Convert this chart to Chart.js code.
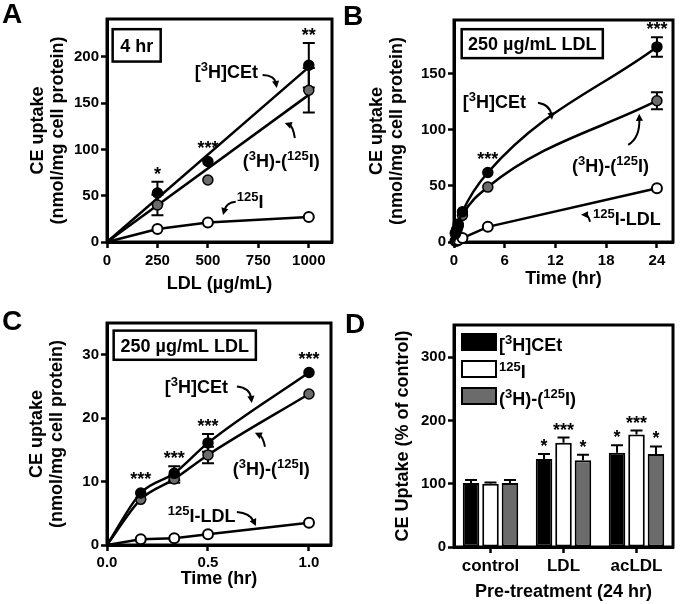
<!DOCTYPE html>
<html>
<head>
<meta charset="utf-8">
<title>CE uptake</title>
<script src="https://cdn.jsdelivr.net/npm/chart.js@4.4.1/dist/chart.umd.min.js"></script>
<style>
  html, body { margin: 0; padding: 0; background: #fff; }
  #fig { position: relative; width: 680px; height: 604px; overflow: hidden; }
  #fig canvas { position: absolute; }
</style>
</head>
<body>
<div id="fig">
  <canvas id="chartA" width="340" height="302" style="left:0;top:0"></canvas>
  <canvas id="chartB" width="340" height="302" style="left:340px;top:0"></canvas>
  <canvas id="chartC" width="340" height="302" style="left:0;top:302px"></canvas>
  <canvas id="chartD" width="340" height="302" style="left:340px;top:302px"></canvas>
</div>
<script>
const FONT = '"Liberation Sans", Arial, Helvetica, sans-serif';
const GRAY = '#6b6b6b';

// ── Panel A: uptake vs LDL dose (4 hr) ──────────────────────────────
const doseA    = [0, 250, 500, 1000];
const cetA     = [0, 53, 87, 191];
const cetErrA  = [0, 12, 0, 24];
const diffA    = [0, 40, 67, 164];
const diffErrA = [0, 11, 0, 24];
const iodA     = [0, 14, 21, 27];
const fitDoseA = [0, 1000];
const cetFitA  = [0, 189];
const diffFitA = [0, 159];
const starsA   = ['', '*', '***', '**'];
const xTicksA  = [0, 250, 500, 750, 1000];
const yTicksA  = [0, 50, 100, 150, 200];

// ── Panel B: time course to 24 hr ───────────────────────────────────
const timeB    = [0, 0.167, 0.333, 0.5, 1, 4, 24];
const cetB     = [0, 8.2, 11.3, 16.1, 27, 62, 174];
const cetErrB  = [0, 0, 0, 0, 0, 0, 8.7];
const diffB    = [0, 7.2, 10.4, 14.2, 23.8, 49, 126];
const diffErrB = [0, 0, 0, 0, 0, 0, 7.5];
const iodB     = [0, 0.9, 1.05, 1.7, 3.5, 13.5, 48];
const starsB   = ['', '', '', '', '', '***', '***'];
const xTicksB  = [0, 6, 12, 18, 24];
const yTicksB  = [0, 50, 100, 150];

// ── Panel C: first hour ─────────────────────────────────────────────
const timeC    = [0, 0.167, 0.333, 0.5, 1];
const cetC     = [0, 8.2, 11.3, 16.1, 27.2];
const cetErrC  = [0, 0, 1.1, 1.4, 0];
const diffC    = [0, 7.2, 10.4, 14.2, 23.8];
const diffErrC = [0, 0, 0.6, 1.3, 0];
const iodC     = [0, 0.9, 1.05, 1.7, 3.5];
const starsC   = ['', '***', '***', '***', '***'];
const xTicksC  = [0, 0.5, 1];
const yTicksC  = [0, 10, 20, 30];

// ── Panel D: pre-treatment, % of control ────────────────────────────
const groupsD    = ['control', 'LDL', 'acLDL'];
const cetD       = [101, 139, 149];
const cetErrD    = [5, 8, 12];
const iodD       = [100, 165, 178];
const iodErrD    = [2, 8, 6];
const diffD      = [101, 137, 147];
const diffErrD   = [5, 9, 12];
const starsCetD  = ['', '*', '*'];
const starsIodD  = ['', '***', '***'];
const starsDiffD = ['', '*', '*'];
const yTicksD    = [0, 100, 200, 300];

// label text with superscripts: [text, isSuperscript]
const LBL_CET  = [['[', 0], ['3', 1], ['H]CEt', 0]];
const LBL_DIFF = [['(', 0], ['3', 1], ['H)-(', 0], ['125', 1], ['I)', 0]];
const LBL_I    = [['125', 1], ['I', 0]];
const LBL_ILDL = [['125', 1], ['I-LDL', 0]];

// ── helpers ─────────────────────────────────────────────────────────
function pts(xs, ys) { return xs.map((x, i) => ({ x, y: ys[i] })); }
function yOf(d) { return typeof d === 'object' ? d.y : d; }
function hideOrigin(ctx) { return ctx.raw && ctx.raw.x === 0 ? 0 : 5; }

function series(data, fill, opt) {
  return Object.assign({
    data,
    borderColor: '#000',
    borderWidth: 2.5,
    backgroundColor: fill,
    pointBackgroundColor: fill,
    pointBorderColor: '#000',
    pointBorderWidth: 1.5,
    pointRadius: hideOrigin,
    clip: false,
    showLine: true,
    tension: 0,
  }, opt);
}

function bar(data, fill, errors, stars) {
  return {
    data, errors, stars,
    backgroundColor: fill,
    borderColor: '#000',
    borderWidth: 2,
    borderSkipped: false,
    categoryPercentage: 0.8,
    barPercentage: 0.85,
  };
}

function axis(o) {
  const a = {
    type: o.type || 'linear',
    afterFit: s => { if (s.isHorizontal()) s.height = o.size; else s.width = o.size; },
    border: { display: true, color: '#000', width: 3 },
    grid: { drawOnChartArea: false, drawTicks: true, tickLength: 6, tickWidth: 2.5, tickColor: '#000', offset: false },
    ticks: { color: '#000', padding: o.pad, font: { family: FONT, size: o.tickSize || 15, weight: 'bold' } },
    title: {
      display: true, text: o.title, color: '#000', padding: o.titlePad,
      font: { family: FONT, size: 18, weight: 'bold', lineHeight: 1.1 }
    }
  };
  if (a.type === 'linear') {
    a.min = 0;
    a.max = o.max;
    a.afterBuildTicks = s => { s.ticks = o.ticks.map(v => ({ value: v })); };
    a.ticks.callback = o.fmt || (v => String(v));
  } else {
    a.offset = true;
  }
  return a;
}

function baseOptions(pad, scales) {
  return {
    responsive: false,
    animation: false,
    devicePixelRatio: 1,
    events: [],
    layout: { padding: Object.assign({ left: 0, top: 0, right: 0, bottom: 0 }, pad) },
    plugins: { legend: { display: false }, tooltip: { enabled: false } },
    scales
  };
}

function richText(ctx, parts, x, y) {
  let cx = x;
  for (const [t, sup] of parts) {
    ctx.font = 'bold ' + (sup ? 13 : 18) + 'px ' + FONT;
    ctx.fillText(t, cx, sup ? y - 7 : y);
    cx += ctx.measureText(t).width;
  }
  return cx - x;
}

function drawArrow(ctx, p0, c, p1) {
  const ang = Math.atan2(p1.y - c.y, p1.x - c.x);
  const L = 7, W = 3.6;
  const cos = Math.cos(ang), sin = Math.sin(ang);
  ctx.beginPath();
  ctx.moveTo(p0.x, p0.y);
  ctx.quadraticCurveTo(c.x, c.y, p1.x - cos * L * 0.7, p1.y - sin * L * 0.7);
  ctx.stroke();
  ctx.beginPath();
  ctx.moveTo(p1.x, p1.y);
  ctx.lineTo(p1.x - L * cos + W * sin, p1.y - L * sin - W * cos);
  ctx.lineTo(p1.x - L * cos - W * sin, p1.y - L * sin + W * cos);
  ctx.closePath();
  ctx.fill();
}

function drawErrors(chart, kind) {
  const { ctx } = chart;
  const ys = chart.scales.y;
  ctx.save();
  ctx.strokeStyle = '#000';
  ctx.lineWidth = 2;
  chart.data.datasets.forEach((ds, i) => {
    const meta = chart.getDatasetMeta(i);
    if (!ds.errors || meta.type !== kind) return;
    meta.data.forEach((el, j) => {
      const err = ds.errors[j];
      if (!err) return;
      const v = yOf(ds.data[j]);
      const top = ys.getPixelForValue(v + err);
      const bot = kind === 'bar' ? el.y : ys.getPixelForValue(v - err);
      ctx.beginPath();
      ctx.moveTo(el.x, top); ctx.lineTo(el.x, bot);
      ctx.moveTo(el.x - 6, top); ctx.lineTo(el.x + 6, top);
      if (kind !== 'bar') { ctx.moveTo(el.x - 6, bot); ctx.lineTo(el.x + 6, bot); }
      ctx.stroke();
    });
  });
  ctx.restore();
}

function drawStars(chart) {
  const { ctx } = chart;
  const ys = chart.scales.y;
  ctx.save();
  ctx.fillStyle = '#000';
  ctx.textAlign = 'center';
  ctx.textBaseline = 'alphabetic';
  ctx.font = 'bold 18px ' + FONT;
  chart.data.datasets.forEach((ds, i) => {
    if (!ds.stars) return;
    const meta = chart.getDatasetMeta(i);
    meta.data.forEach((el, j) => {
      const s = ds.stars[j];
      if (!s) return;
      let top = meta.type === 'bar' ? el.y : el.y - 5.5;
      const err = ds.errors ? ds.errors[j] : 0;
      if (err) top = Math.min(top, ys.getPixelForValue(yOf(ds.data[j]) + err));
      ctx.fillText(s, el.x, top - 2);
    });
  });
  ctx.restore();
}

// per-panel decorations: frame, error bars, stars, labels, arrows, legend
function decor(notes) {
  return {
    id: 'decor',
    beforeDatasetsDraw(chart) {
      const { ctx, chartArea: a } = chart;
      ctx.save();
      ctx.strokeStyle = '#000';
      ctx.lineWidth = 3;
      ctx.strokeRect(a.left, a.top, a.right - a.left, a.bottom - a.top);
      ctx.restore();
      drawErrors(chart, 'line');
    },
    afterDatasetsDraw(chart) {
      drawErrors(chart, 'bar');
      drawStars(chart);
      const { ctx, chartArea: a } = chart;
      const sx = chart.scales.x, sy = chart.scales.y;
      const P = ([x, y]) => ({ x: sx.getPixelForValue(x), y: sy.getPixelForValue(y) });
      ctx.save();
      ctx.fillStyle = '#000';
      ctx.strokeStyle = '#000';
      ctx.textBaseline = 'alphabetic';
      ctx.textAlign = 'left';

      if (notes.box) {
        const b = notes.box;
        const p1 = P([b.x1, b.y1]), p2 = P([b.x2, b.y2]);
        ctx.lineWidth = 2.5;
        ctx.fillStyle = '#fff';
        ctx.fillRect(p1.x, p1.y, p2.x - p1.x, p2.y - p1.y);
        ctx.strokeRect(p1.x, p1.y, p2.x - p1.x, p2.y - p1.y);
        ctx.fillStyle = '#000';
        ctx.font = 'bold 18px ' + FONT;
        ctx.textAlign = 'center';
        ctx.fillText(b.text, (p1.x + p2.x) / 2, (p1.y + p2.y) / 2 + 6.5);
        ctx.textAlign = 'left';
      }
      (notes.texts || []).forEach(t => {
        const p = P([t.x, t.y]);
        richText(ctx, t.parts, p.x, p.y);
      });
      ctx.lineWidth = 2;
      (notes.arrows || []).forEach(ar => drawArrow(ctx, P(ar[0]), P(ar[1]), P(ar[2])));

      if (notes.legend) {
        notes.legend.forEach((item, k) => {
          const x = a.left + 8, y = a.top + 9 + k * 27;
          ctx.fillStyle = item.fill;
          ctx.fillRect(x, y, 34, 16);
          ctx.lineWidth = 2;
          ctx.strokeRect(x, y, 34, 16);
          ctx.fillStyle = '#000';
          richText(ctx, item.parts, x + 37, y + 17);
        });
      }
      if (notes.letter) {
        const [txt, lx, ly] = notes.letter;
        ctx.font = 'bold 28px ' + FONT;
        ctx.fillText(txt, lx, ly);
      }
      ctx.restore();
    }
  };
}

// ── annotations (label anchors in data units) ───────────────────────
const notesA = {
  letter: ['A', 2, 23],
  box: { x1: 28, y1: 230, x2: 266, y2: 195, text: '4 hr' },
  texts: [
    { x: 435, y: 177, parts: LBL_CET },
    { x: 673, y: 81, parts: LBL_DIFF },
    { x: 643, y: 37, parts: LBL_I }
  ],
  arrows: [
    [[771, 180.5], [831, 180], [841, 166.5]],
    [[931, 112.4], [921, 125.4], [881, 128.6]],
    [[638, 43.6], [592, 42.9], [575, 29.2]]
  ]
};

const notesB = {
  letter: ['B', 3, 25],
  box: { x1: 0.91, y1: 189.8, x2: 17.6, y2: 164, text: '250 µg/mL LDL' },
  texts: [
    { x: 1.03, y: 119.7, parts: LBL_CET },
    { x: 13.96, y: 62.7, parts: LBL_DIFF },
    { x: 16.45, y: 15.4, parts: LBL_ILDL }
  ],
  arrows: [
    [[9.93, 124.2], [11.35, 122.5], [11.59, 109]],
    [[20.6, 86.7], [22.0, 92.9], [21.9, 114.3]],
    [[16.09, 18.1], [15.85, 24.3], [15.03, 24.3]]
  ]
};

const notesC = {
  letter: ['C', 2, 28],
  box: { x1: 0.033, y1: 33.8, x2: 0.737, y2: 29.2, text: '250 µg/mL LDL' },
  texts: [
    { x: 0.286, y: 24.0, parts: LBL_CET },
    { x: 0.623, y: 11.06, parts: LBL_DIFF },
    { x: 0.301, y: 3.63, parts: LBL_ILDL }
  ],
  arrows: [
    [[0.643, 25.0], [0.707, 24.8], [0.717, 22.4]],
    [[0.782, 15.5], [0.772, 17.1], [0.732, 17.7]],
    [[0.643, 5.2], [0.707, 5.06], [0.737, 3.0]]
  ]
};

const notesD = {
  letter: ['D', 5, 31],
  legend: [
    { fill: '#000', parts: LBL_CET },
    { fill: '#fff', parts: LBL_I },
    { fill: GRAY, parts: LBL_DIFF }
  ]
};

const yTitle = ['CE uptake', '(nmol/mg cell protein)'];

// ── charts ──────────────────────────────────────────────────────────
new Chart(document.getElementById('chartA'), {
  type: 'line',
  data: {
    datasets: [
      series(pts(doseA, cetA), '#000', { showLine: false, errors: cetErrA, stars: starsA }),
      series(pts(doseA, diffA), GRAY, { showLine: false, errors: diffErrA }),
      series(pts(doseA, iodA), '#fff', { pointBorderWidth: 2 }),
      series(pts(fitDoseA, cetFitA), '#000', { pointRadius: 0 }),
      series(pts(fitDoseA, diffFitA), '#000', { pointRadius: 0 }),
    ]
  },
  options: baseOptions({ top: 19, right: 8 }, {
    x: axis({ max: 1115, ticks: xTicksA, size: 60, pad: 4, title: 'LDL (µg/mL)', titlePad: { top: 0, bottom: 8 } }),
    y: axis({ max: 241, ticks: yTicksA, size: 107, pad: 2, title: yTitle, titlePad: { top: 28, bottom: 0 } })
  }),
  plugins: [decor(notesA)]
});

new Chart(document.getElementById('chartB'), {
  type: 'line',
  data: {
    datasets: [
      series(pts(timeB, cetB), '#000', { cubicInterpolationMode: 'monotone', errors: cetErrB, stars: starsB }),
      series(pts(timeB, diffB), GRAY, { cubicInterpolationMode: 'monotone', errors: diffErrB }),
      series(pts(timeB, iodB), '#fff', { pointBorderWidth: 2 }),
    ]
  },
  options: baseOptions({ top: 20, right: 7 }, {
    x: axis({ max: 25.9, ticks: xTicksB, size: 60, pad: 4, title: 'Time (hr)', titlePad: { top: 0, bottom: 13 } }),
    y: axis({ max: 198, ticks: yTicksB, size: 114, pad: 2, title: yTitle, titlePad: { top: 27, bottom: 0 } })
  }),
  plugins: [decor(notesB)]
});

new Chart(document.getElementById('chartC'), {
  type: 'line',
  data: {
    datasets: [
      series(pts(timeC, cetC), '#000', { cubicInterpolationMode: 'monotone', errors: cetErrC, stars: starsC }),
      series(pts(timeC, diffC), GRAY, { cubicInterpolationMode: 'monotone', errors: diffErrC }),
      series(pts(timeC, iodC), '#fff', { pointBorderWidth: 2 }),
    ]
  },
  options: baseOptions({ top: 21, right: 9 }, {
    x: axis({ max: 1.109, ticks: xTicksC, size: 59, pad: 3, fmt: v => v.toFixed(1), title: 'Time (hr)', titlePad: { top: 0, bottom: 15 } }),
    y: axis({ max: 35, ticks: yTicksC, size: 107, pad: 2, title: yTitle, titlePad: { top: 27, bottom: 0 } })
  }),
  plugins: [decor(notesC)]
});

new Chart(document.getElementById('chartD'), {
  type: 'bar',
  data: {
    labels: groupsD,
    datasets: [
      bar(cetD, '#000', cetErrD, starsCetD),
      bar(iodD, '#fff', iodErrD, starsIodD),
      bar(diffD, GRAY, diffErrD, starsDiffD),
    ]
  },
  options: baseOptions({ top: 23, right: 7 }, {
    x: axis({ type: 'category', size: 57, pad: 3, tickSize: 17, title: 'Pre-treatment (24 hr)', titlePad: { top: 0, bottom: 2 } }),
    y: axis({ max: 351, ticks: yTicksD, size: 114, pad: 2, title: 'CE Uptake (% of control)', titlePad: { top: 53, bottom: 0 } })
  }),
  plugins: [decor(notesD)]
});
</script>
</body>
</html>
